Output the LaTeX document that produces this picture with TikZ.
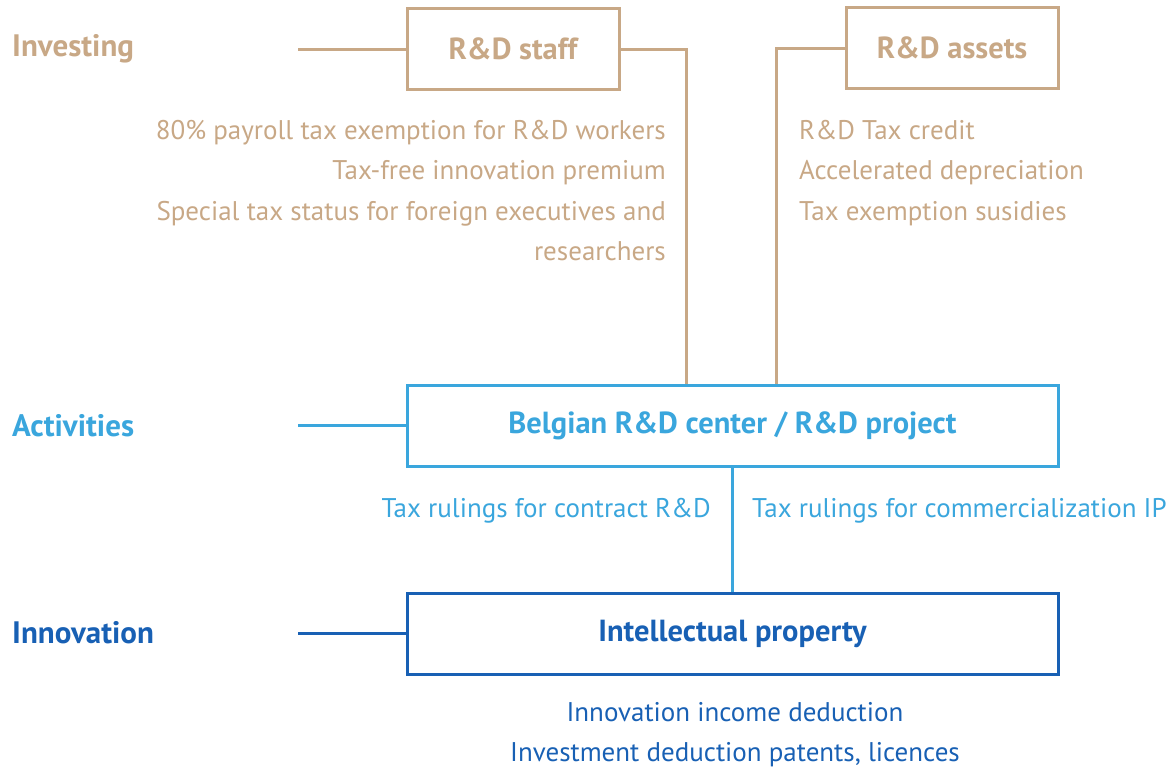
\documentclass[tikz,border=0pt]{standalone}
\usepackage{fontspec}
\setmainfont{PT Sans}
\definecolor{Tan}{RGB}{200,168,134}
\definecolor{LightBlue}{RGB}{58,166,221}
\definecolor{DarkBlue}{RGB}{24,96,180}
\usetikzlibrary{positioning}

\begin{document}
\begin{tikzpicture}[x=1pt,y=-1pt,
  box/.style={draw, line width=3pt, minimum height=81pt, inner sep=0pt,
    font=\fontsize{30.5}{34}\selectfont\bfseries},
  level/.style={anchor=west, inner sep=0pt, font=\fontsize{31}{34}\selectfont\bfseries},
  note/.style={inner sep=0pt, font=\fontsize{27}{40.5}\selectfont},
  link/.style={line width=3pt}]
\useasboundingbox (0,0) rectangle (1175,769);
%boxes
\node[box, Tan, minimum width=212pt] (staff) at (513,49) {R\&D staff};
\node[box, Tan, minimum width=212pt] (assets) at (952,48) {R\&D assets};
\node[box, LightBlue, minimum width=651pt] (center) at (732.5,425.5) {Belgian R\&D center / R\&D project};
\node[box, DarkBlue, minimum width=651pt] (ip) at (732.5,633.5) {Intellectual property};
%levels
\node[level, Tan] (investing) at (12,49) {Investing};
\node[level, LightBlue] (activities) at (12,426) {Activities};
\node[level, DarkBlue] (innovation) at (12,633) {Innovation};
\coordinate (invstart) at (298,49);
\coordinate (actstart) at (298,425.5);
\coordinate (innstart) at (298,633.5);
\draw[link, Tan] (invstart) -- (staff.west);
\draw[link, LightBlue] (actstart) -- (center.west);
\draw[link, DarkBlue] (innstart) -- (ip.west);
%links
\draw[link, Tan] (staff.east) -| ([xshift=-46.5pt]center.north);
\draw[link, Tan] (assets.west) -| ([xshift=43.5pt]center.north);
\draw[link, LightBlue] (center.south) -- (ip.north);
%notes
\node[note, Tan, align=right, anchor=north east] (staffnotes) at (666,120)
  {80\% payroll tax exemption for R\&D workers\\Tax-free innovation premium\\
   Special tax status for foreign executives and\\researchers};
\node[note, Tan, align=left, anchor=north west] (assetnotes) at (799,120)
  {R\&D Tax credit\\Accelerated depreciation\\Tax exemption susidies};
\node[note, LightBlue, anchor=north east] (contract) at (711,498) {Tax rulings for contract R\&D};
\node[note, LightBlue, anchor=north west] (commercial) at (752,498) {Tax rulings for commercialization IP};
\node[note, DarkBlue, align=center, anchor=north] (ipnotes) at (735,702)
  {Innovation income deduction\\Investment deduction patents, licences};
\end{tikzpicture}
\end{document}
